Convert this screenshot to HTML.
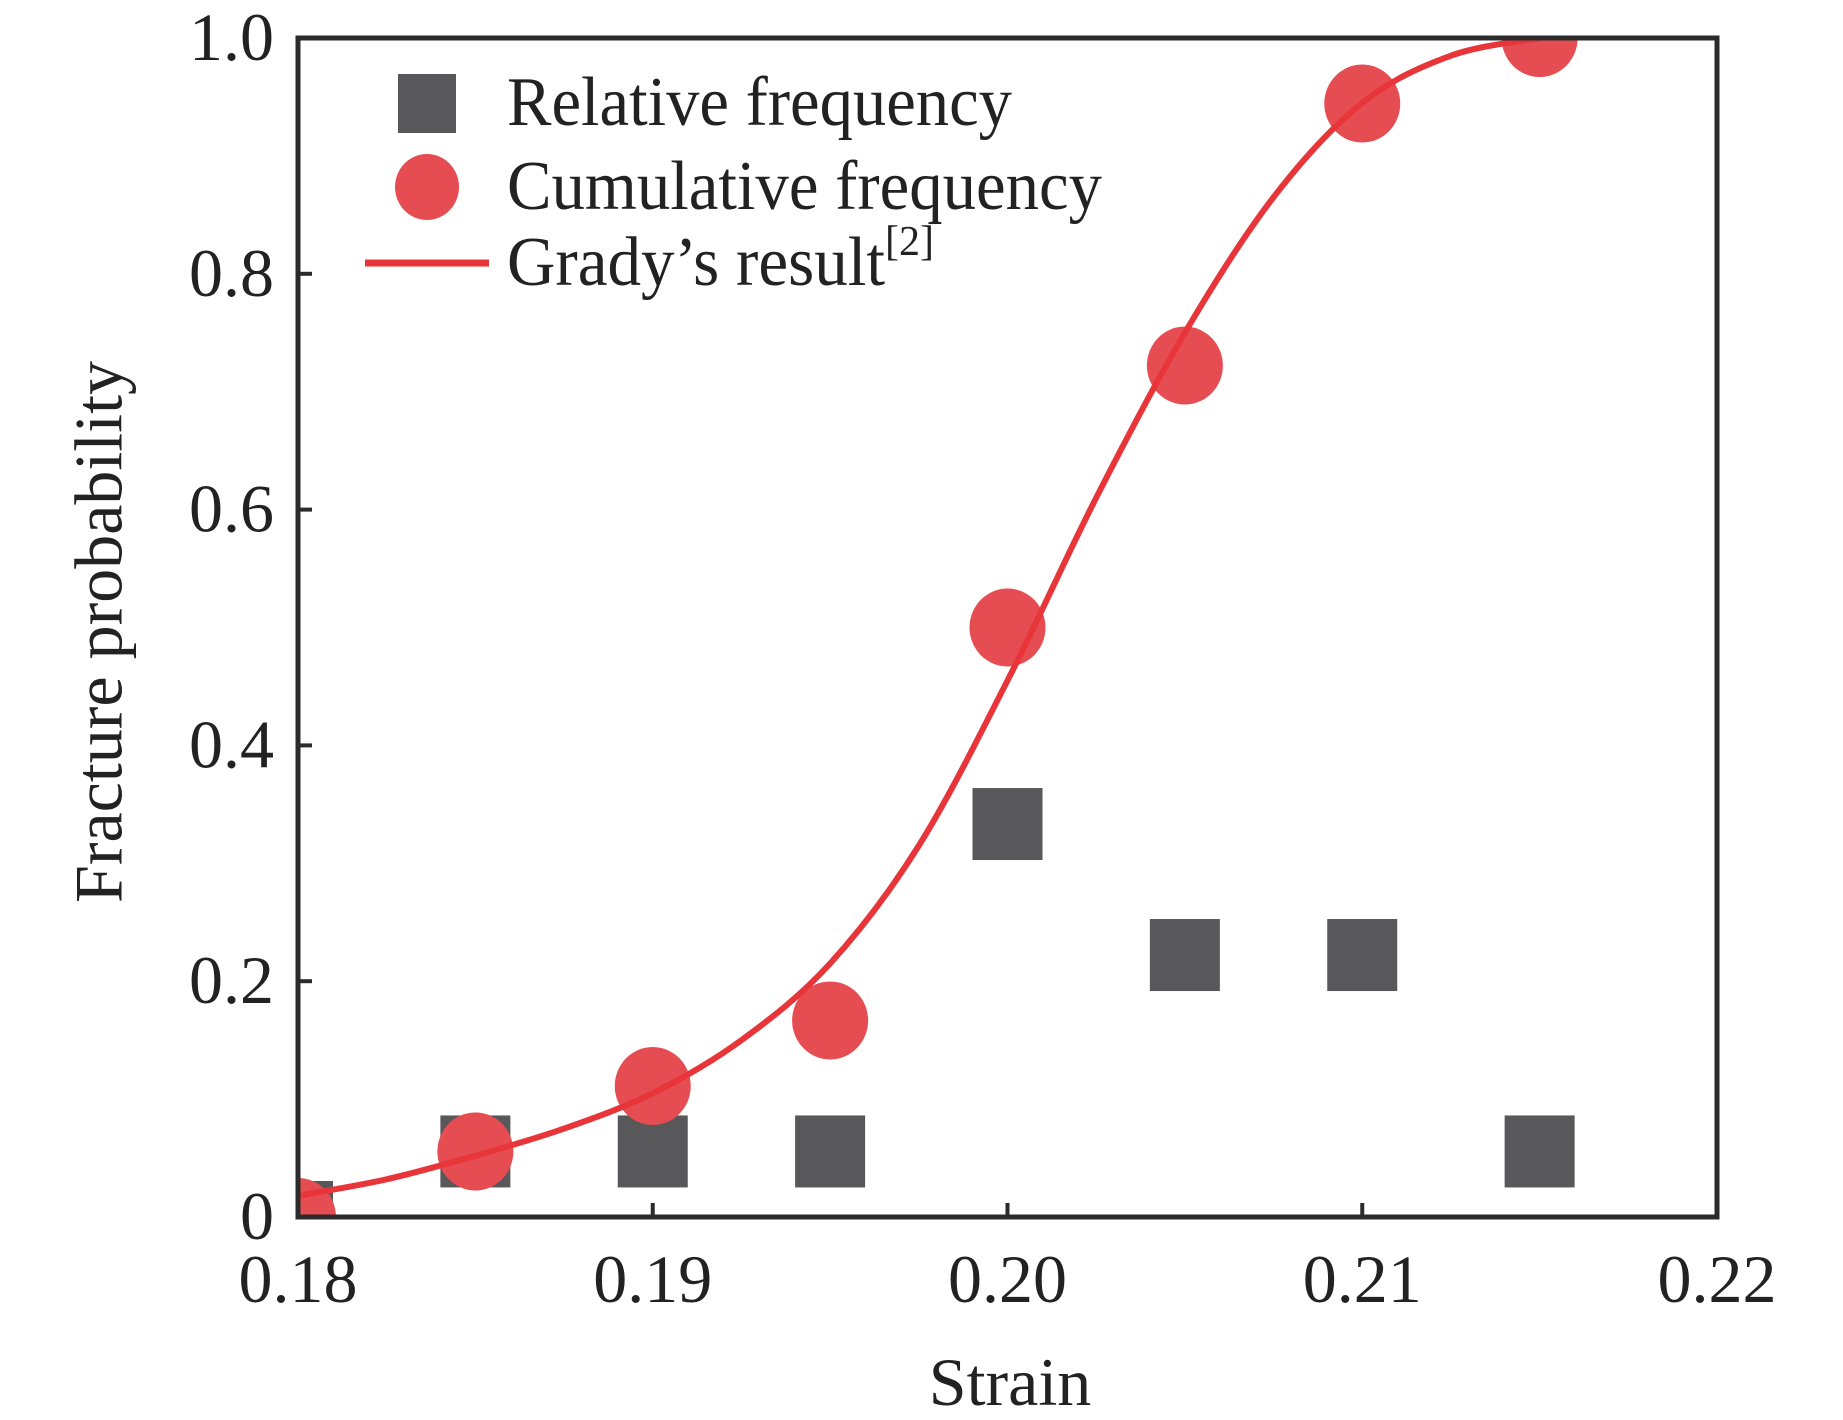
<!DOCTYPE html>
<html><head><meta charset="utf-8"><style>
html,body{margin:0;padding:0;background:#fff;}
svg{display:block;font-family:"Liberation Serif",serif;}
</style></head>
<body>
<svg id="chart" width="1843" height="1420" viewBox="0 0 1843 1420">
<defs><clipPath id="plotclip"><rect x="298" y="38" width="1419" height="1179"/></clipPath></defs>
<g id="marks" clip-path="url(#plotclip)"></g>
<rect x="298" y="38" width="1419" height="1179" fill="none" stroke="#2b2b2b" stroke-width="5"/>
<g id="axes"></g>
<text x="106" y="632" font-size="68" fill="#222" text-anchor="middle" transform="rotate(-90 106 632)" dominant-baseline="middle">Fracture probability</text>
<text x="1010" y="1405" font-size="68" fill="#222" text-anchor="middle">Strain</text>
<g>
  <rect x="398" y="74" width="58" height="59" fill="#58585a"/>
  <text x="507" y="125" font-size="70" fill="#222" textLength="505" lengthAdjust="spacingAndGlyphs">Relative frequency</text>
  <ellipse cx="427" cy="187" rx="32" ry="33" fill="#e64d52"/>
  <text x="507" y="209" font-size="70" fill="#222" textLength="595" lengthAdjust="spacingAndGlyphs">Cumulative frequency</text>
  <line x1="365" y1="263" x2="489" y2="263" stroke="#e8353a" stroke-width="7"/>
  <text x="507" y="285" font-size="70" fill="#222"><tspan textLength="378" lengthAdjust="spacingAndGlyphs">Grady’s result</tspan><tspan font-size="42" dy="-30">[2]</tspan></text>
</g>
</svg>
<script>
const xTicks = [0.18, 0.19, 0.20, 0.21, 0.22];
const xTickLabels = ["0.18", "0.19", "0.20", "0.21", "0.22"];
const yTicks = [0, 0.2, 0.4, 0.6, 0.8, 1.0];
const yTickLabels = ["0", "0.2", "0.4", "0.6", "0.8", "1.0"];
const strain = [0.18, 0.185, 0.19, 0.195, 0.20, 0.205, 0.21, 0.215];
const relativeFreq = [0, 0.0556, 0.0556, 0.0556, 0.3333, 0.2222, 0.2222, 0.0556];
const cumulativeFreq = [0, 0.0556, 0.1111, 0.1667, 0.5, 0.7222, 0.9444, 1.0];
const gradyX = [0.18, 0.1825, 0.185, 0.1875, 0.19, 0.1925, 0.195, 0.1975, 0.20, 0.2025, 0.205, 0.2075, 0.21, 0.2125, 0.215];
const gradyY = [0.018, 0.032, 0.052, 0.075, 0.105, 0.150, 0.215, 0.315, 0.455, 0.610, 0.750, 0.865, 0.945, 0.985, 1.0];

const X0 = 298, X1 = 1717, Y0 = 1217, Y1 = 38;
function xs(v){ return X0 + (v - 0.18) / 0.04 * (X1 - X0); }
function ys(v){ return Y0 - v * (Y0 - Y1); }
const NS = "http://www.w3.org/2000/svg";
const marks = document.getElementById('marks');
const axes = document.getElementById('axes');
function mk(tag, attrs, parent){ const e = document.createElementNS(NS, tag); for (const k in attrs) e.setAttribute(k, attrs[k]); parent.appendChild(e); return e; }

strain.forEach((s, i) => {
  const r = mk('rect', {x: xs(s) - 35, y: ys(relativeFreq[i]) - 36, width: 70, height: 72, fill: '#58585a'}, marks);
  
  
});
strain.forEach((s, i) => {
  const c = mk('ellipse', {cx: xs(s), cy: ys(cumulativeFreq[i]), rx: 38, ry: 39, fill: '#e64d52'}, marks);
  
  
});
const pts = gradyX.map((x, i) => [xs(x), ys(gradyY[i])]);
let d = 'M' + pts[0][0] + ',' + pts[0][1];
for (let i = 0; i < pts.length - 1; i++) {
  const p0 = pts[Math.max(0, i - 1)], p1 = pts[i], p2 = pts[i + 1], p3 = pts[Math.min(pts.length - 1, i + 2)];
  const c1 = [p1[0] + (p2[0] - p0[0]) / 6, p1[1] + (p2[1] - p0[1]) / 6];
  const c2 = [p2[0] - (p3[0] - p1[0]) / 6, p2[1] - (p3[1] - p1[1]) / 6];
  d += ' C' + c1 + ' ' + c2 + ' ' + p2;
}
const line = mk('path', {d: d, fill: 'none', stroke: '#e8353a', 'stroke-width': 6}, marks);



xTicks.forEach((t, i) => {
  if (i > 0 && i < xTicks.length - 1) {
    const tk = mk('line', {x1: xs(t), x2: xs(t), y1: Y0, y2: Y0 - 14, stroke: '#2b2b2b', 'stroke-width': 4}, axes);
    
    
  }
  const lb = mk('text', {x: xs(t), y: 1302, 'font-size': 68, fill: '#222', 'text-anchor': 'middle'}, axes);
  lb.textContent = xTickLabels[i];
  
  
});
yTicks.forEach((t, i) => {
  if (i > 0 && i < yTicks.length - 1) {
    const tk = mk('line', {x1: X0, x2: X0 + 14, y1: ys(t), y2: ys(t), stroke: '#2b2b2b', 'stroke-width': 4}, axes);
    
    
  }
  const lb = mk('text', {x: 274, y: ys(t) + 22, 'font-size': 68, fill: '#222', 'text-anchor': 'end'}, axes);
  lb.textContent = yTickLabels[i];
  
  
});
</script>
</body></html>
